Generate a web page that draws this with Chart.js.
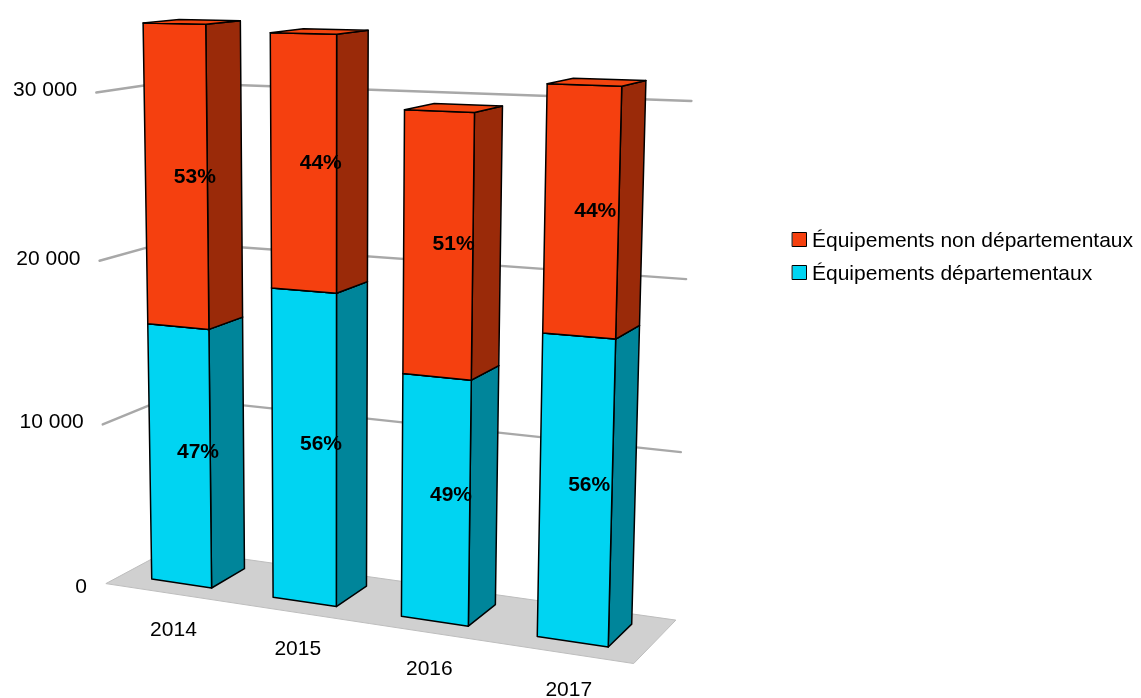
<!DOCTYPE html>
<html><head><meta charset="utf-8">
<script src="https://cdn.jsdelivr.net/npm/chart.js@4.4.1/dist/chart.umd.min.js"></script>
<style>html,body{margin:0;padding:0;background:#fff}canvas{display:block}</style>
</head><body><canvas id="c" width="1141" height="698"></canvas>
<script>
// ---- data ----
const categories = ['2014', '2015', '2016', '2017'];
const deptValues = [16000, 18800, 14450, 17500];      // Équipements départementaux
const nonDeptValues = [18000, 14800, 15050, 13700];   // Équipements non départementaux
const seriesLabels = ['Équipements départementaux', 'Équipements non départementaux'];
const yTicks = [0, 10000, 20000, 30000];
const yTickLabels = ['0', '10 000', '20 000', '30 000'];
const axisMax = 35000;
const axisStep = 10000;

// ---- look ----
const FONT = 'Liberation Sans, Arial, sans-serif';
const faceColors = [
  { front: '#00d4f2', side: '#00859a', top: '#00c6e2' },
  { front: '#f5400f', side: '#9a2a09', top: '#f2450f' }
];
const legendColors = ['#00d4f2', '#f5400f'];

// camera: homogeneous 3x4 projection (last entry 1) from world units
// X = category units, Y = axis units of 10 000, Z = depth (0 front .. 1 back wall)
const CAM = [114.725, -4.50130, 74.2536, 105.847,
             1.93196, -164.962, -5.08885, 583.613,
             -0.0272036, -0.0135967, 0.0542362];
const BAR_Z = [0.245, 0.78];

function proj(X, Y, Z) {
  const w = CAM[8] * X + CAM[9] * Y + CAM[10] * Z + 1;
  return [(CAM[0] * X + CAM[1] * Y + CAM[2] * Z + CAM[3]) / w,
          (CAM[4] * X + CAM[5] * Y + CAM[6] * Z + CAM[7]) / w];
}

function poly(ctx, pts, fill, stroke, lw) {
  ctx.beginPath();
  pts.forEach((p, i) => { const q = proj(p[0], p[1], p[2]); i ? ctx.lineTo(q[0], q[1]) : ctx.moveTo(q[0], q[1]); });
  ctx.closePath();
  if (fill) { ctx.fillStyle = fill; ctx.fill(); }
  if (stroke) { ctx.strokeStyle = stroke; ctx.lineWidth = lw || 1; ctx.lineJoin = 'round'; ctx.stroke(); }
}

const scene3d = {
  id: 'scene3d',
  beforeDatasetsDraw() { return false; },
  afterDraw(chart) {
    const ctx = chart.ctx, xs = chart.scales.x, ys = chart.scales.y;
    const n = categories.length;
    const wx = px => (px - xs.left) / xs.width * n;
    const unitPx = ys.getPixelForValue(0) - ys.getPixelForValue(axisStep);
    const wy = px => (ys.getPixelForValue(0) - px) / unitPx;
    ctx.save();

    // floor
    poly(ctx, [[0, 0, 0], [n, 0, 0], [n, 0, 1], [0, 0, 1]], '#d0d0d0', '#bdbdbd', 1);

    // grid lines on side and back walls
    ctx.strokeStyle = '#a8a8a8'; ctx.lineWidth = 2.4; ctx.lineCap = 'round';
    yTicks.forEach(v => {
      if (v === 0) return;
      const Y = wy(ys.getPixelForValue(v));
      const a = proj(0, Y, 0), b = proj(0, Y, 1), c = proj(n, Y, 1);
      ctx.beginPath(); ctx.moveTo(a[0], a[1]); ctx.lineTo(b[0], b[1]); ctx.lineTo(c[0], c[1]); ctx.stroke();
    });

    // bars
    const metas = chart.data.datasets.map((d, i) => chart.getDatasetMeta(i));
    const labels = [];
    for (let i = 0; i < n; i++) {
      metas.forEach((meta, di) => {
        const el = meta.data[i];
        const X0 = wx(el.x - el.width / 2), X1 = wx(el.x + el.width / 2);
        const Yb = wy(el.base), Yt = wy(el.y);
        const [z0, z1] = BAR_Z;
        const col = faceColors[di];
        poly(ctx, [[X1, Yb, z0], [X1, Yb, z1], [X1, Yt, z1], [X1, Yt, z0]], col.side, '#000', 1.5);
        poly(ctx, [[X0, Yb, z0], [X1, Yb, z0], [X1, Yt, z0], [X0, Yt, z0]], col.front, '#000', 1.5);
        poly(ctx, [[X0, Yt, z0], [X1, Yt, z0], [X1, Yt, z1], [X0, Yt, z1]], col.top, '#000', 1.5);
        const total = chart.data.datasets.reduce((s, d) => s + d.data[i], 0);
        const pct = Math.round(chart.data.datasets[di].data[i] / total * 100);
        labels.push([proj((X0 + X1) / 2, (Yb + Yt) / 2, (z0 + z1) / 2), pct + '%']);
      });
    }

    ctx.fillStyle = '#000';
    ctx.textAlign = 'center'; ctx.textBaseline = 'middle';
    ctx.font = 'bold 21px ' + FONT;
    labels.forEach(([p, t]) => ctx.fillText(t, p[0] + 1, p[1] + 4));

    // value axis labels
    ctx.font = '21px ' + FONT;
    ctx.textAlign = 'right';
    yTicks.forEach((v, k) => {
      const p = proj(0, wy(ys.getPixelForValue(v)), 0);
      ctx.fillText(yTickLabels[k], p[0] - 19, p[1] + (v === 0 ? 4 : -2));
    });

    // category labels
    ctx.textAlign = 'center';
    categories.forEach((c, i) => {
      const p = proj(wx(xs.getPixelForValue(i)), 0, 0);
      ctx.fillText(c, p[0] + 8, p[1] + 38);
    });

    // legend (top series first)
    ctx.textAlign = 'left';
    [1, 0].forEach((di, k) => {
      const y = 240 + k * 33;
      ctx.fillStyle = legendColors[di];
      ctx.fillRect(792.5, y - 7.5, 14, 14);
      ctx.strokeStyle = '#000'; ctx.lineWidth = 1; ctx.strokeRect(792.5, y - 7.5, 14, 14);
      ctx.fillStyle = '#000';
      ctx.fillText(seriesLabels[di], 812, y + 1);
    });
    ctx.restore();
  }
};

new Chart(document.getElementById('c'), {
  type: 'bar',
  data: {
    labels: categories,
    datasets: [
      { label: seriesLabels[0], data: deptValues, backgroundColor: legendColors[0] },
      { label: seriesLabels[1], data: nonDeptValues, backgroundColor: legendColors[1] }
    ]
  },
  options: {
    responsive: false,
    animation: false,
    events: [],
    categoryPercentage: 1,
    barPercentage: 0.5,
    plugins: { legend: { display: false }, tooltip: { enabled: false } },
    scales: {
      x: { display: false, stacked: true },
      y: { display: false, stacked: true, min: 0, max: axisMax, ticks: { stepSize: axisStep } }
    }
  },
  plugins: [scene3d]
});
</script></body></html>
